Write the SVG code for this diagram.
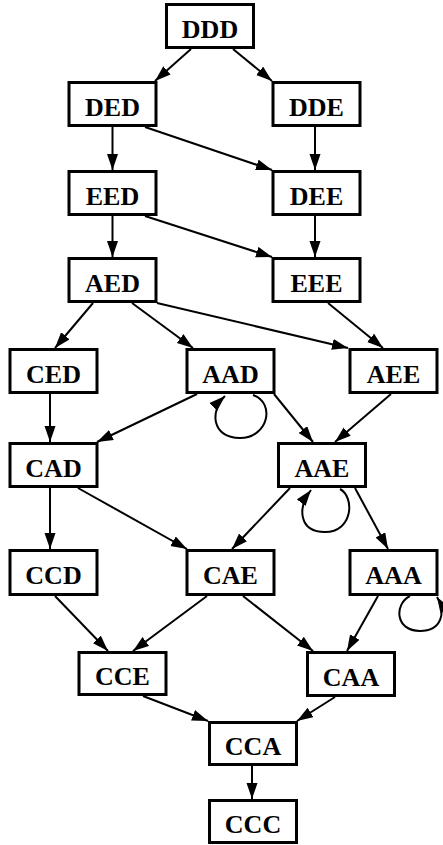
<svg xmlns="http://www.w3.org/2000/svg" width="443" height="845" viewBox="0 0 443 845">
<defs>
<marker id="ah" markerUnits="userSpaceOnUse" markerWidth="17" markerHeight="12" refX="16" refY="5.5" orient="auto">
<path d="M0,0 L16,5.5 L0,11 z" fill="#000"/>
</marker>
<style>
.n rect{fill:#fff;stroke:#000;stroke-width:3}
.n text{font-family:"Liberation Serif","Times New Roman",serif;font-weight:bold;font-size:26px;text-anchor:middle;fill:#000}
#edges line,#edges path{stroke:#000;stroke-width:2;fill:none;marker-end:url(#ah)}
</style>
</defs>
<rect width="443" height="845" fill="#fff"/>
<g id="edges">
<line x1="191" y1="49" x2="155" y2="81"/>
<line x1="233" y1="49" x2="272" y2="81"/>
<line x1="112.5" y1="127" x2="112.5" y2="170"/>
<line x1="315" y1="127" x2="315" y2="170"/>
<line x1="145" y1="127" x2="272" y2="170"/>
<line x1="112.5" y1="216" x2="112.5" y2="257"/>
<line x1="315" y1="216" x2="315" y2="257"/>
<line x1="145" y1="216" x2="272" y2="257"/>
<line x1="93" y1="303" x2="55" y2="348"/>
<line x1="132" y1="303" x2="193" y2="348"/>
<line x1="157" y1="303" x2="348" y2="348"/>
<line x1="328" y1="303" x2="383" y2="348"/>
<line x1="50" y1="394" x2="50" y2="442"/>
<line x1="197" y1="394" x2="97" y2="442"/>
<line x1="274" y1="394" x2="313" y2="442"/>
<line x1="391" y1="394" x2="335" y2="442"/>
<path d="M253 395 C276 403,268 438,240 438 C211 438,210 410,225 396"/>
<line x1="50" y1="488" x2="50" y2="549"/>
<line x1="78" y1="488" x2="187" y2="549"/>
<line x1="290" y1="488" x2="232" y2="549"/>
<line x1="355" y1="488" x2="388" y2="549"/>
<path d="M340 489 C355 497,353 532,325 532 C299 532,297 508,311 490"/>
<line x1="55" y1="596" x2="108" y2="651"/>
<line x1="207" y1="596" x2="133" y2="651"/>
<line x1="243" y1="596" x2="313" y2="651"/>
<line x1="378" y1="596" x2="347" y2="651"/>
<path d="M410 596 C394 604,395 631,420 631 C442 631,446 612,437 597"/>
<line x1="143" y1="696" x2="208" y2="721"/>
<line x1="335" y1="697" x2="297" y2="721"/>
<line x1="252" y1="766" x2="252" y2="799"/>
</g>
<g id="DDD" class="n"><rect x="166.5" y="4.5" width="87" height="43"/><text x="210" y="37.5">DDD</text></g>
<g id="DED" class="n"><rect x="69" y="82.5" width="87" height="43"/><text x="112.5" y="115.5">DED</text></g>
<g id="DDE" class="n"><rect x="273" y="82.5" width="87" height="43"/><text x="316.5" y="115.5">DDE</text></g>
<g id="EED" class="n"><rect x="69" y="171.5" width="87" height="43"/><text x="112.5" y="204.5">EED</text></g>
<g id="DEE" class="n"><rect x="273" y="171.5" width="87" height="43"/><text x="316.5" y="204.5">DEE</text></g>
<g id="AED" class="n"><rect x="69" y="258.5" width="87" height="43"/><text x="112.5" y="291.5">AED</text></g>
<g id="EEE" class="n"><rect x="273" y="258.5" width="87" height="43"/><text x="316.5" y="291.5">EEE</text></g>
<g id="CED" class="n"><rect x="10" y="349.5" width="87" height="43"/><text x="53.5" y="382.5">CED</text></g>
<g id="AAD" class="n"><rect x="187" y="349.5" width="87" height="43"/><text x="230.5" y="382.5">AAD</text></g>
<g id="AEE" class="n"><rect x="350" y="349.5" width="87" height="43"/><text x="393.5" y="382.5">AEE</text></g>
<g id="CAD" class="n"><rect x="10" y="443.5" width="87" height="43"/><text x="53.5" y="476.5">CAD</text></g>
<g id="AAE" class="n"><rect x="278.5" y="443.5" width="87" height="43"/><text x="322" y="476.5">AAE</text></g>
<g id="CCD" class="n"><rect x="10" y="550.5" width="87" height="44"/><text x="53.5" y="584">CCD</text></g>
<g id="CAE" class="n"><rect x="187" y="550.5" width="87" height="44"/><text x="230.5" y="584">CAE</text></g>
<g id="AAA" class="n"><rect x="350" y="550.5" width="87" height="44"/><text x="393.5" y="584">AAA</text></g>
<g id="CCE" class="n"><rect x="79" y="652.5" width="87" height="42"/><text x="122.5" y="685">CCE</text></g>
<g id="CAA" class="n"><rect x="307.5" y="652.5" width="87" height="43"/><text x="351" y="685.5">CAA</text></g>
<g id="CCA" class="n"><rect x="209.5" y="722.5" width="87" height="42"/><text x="253" y="755">CCA</text></g>
<g id="CCC" class="n"><rect x="209.5" y="800.5" width="87" height="42"/><text x="253" y="833">CCC</text></g>
</svg>
